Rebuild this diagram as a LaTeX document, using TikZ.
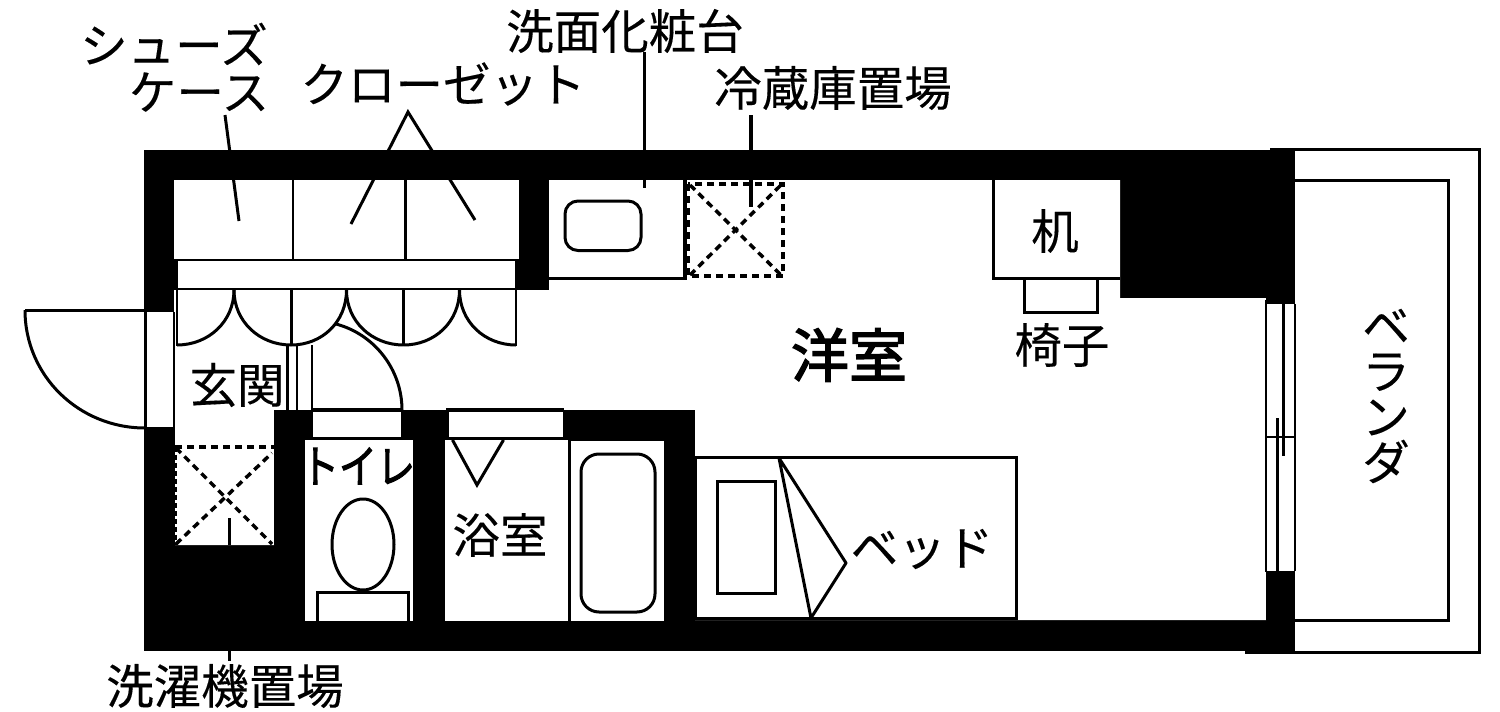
\documentclass[tikz,border=0pt]{standalone}
\usepackage{fontspec}
\usepackage{graphicx}
\setmainfont[FakeBold=0.25]{Noto Sans CJK JP}
\newfontfamily\medfont[FakeBold=2.5]{Noto Sans CJK JP}
\tikzset{
  ln/.style={draw=black,line width=3pt},
  thin ln/.style={draw=black,line width=2.4pt},
  dsh/.style={draw=black,line width=3.5pt,dash pattern=on 7pt off 5pt},
  wht/.style={fill=white,draw=none},
  blk/.style={fill=black,draw=none},
  lbl/.style={inner sep=0pt,outer sep=0pt,anchor=center,font=\fontsize{47.5}{47.5}\selectfont},
}
\begin{document}
\begin{tikzpicture}[x=1pt,y=-1pt,line join=miter]
\useasboundingbox (0,0) rectangle (1500,712);
\fill[white] (0,0) rectangle (1500,712);
% veranda
\draw[ln] (1270,149) -- (1479,149) -- (1479,652) -- (1245,652);
\draw[ln] (1295,180) -- (1448,180) -- (1448,620) -- (1295,620);
% walls
\fill[blk] (144,150) rectangle (1295,651);
\fill[blk] (1270,148) rectangle (1295,304);
\fill[blk] (1245,618) rectangle (1295,653);
% rooms
\fill[wht] (549,180) -- (1120,180) -- (1120,298) -- (1266,298) -- (1266,620) -- (695,620) -- (695,410) -- (274,410) -- (274,545) -- (175,545) -- (175,427) -- (174,427) -- (174,290) -- (549,290) -- cycle;
\fill[wht] (174,180) rectangle (519,259);
\fill[wht] (178,261) rectangle (515,288);
\fill[wht] (144,312) rectangle (174,427);
\fill[wht] (1266,304) rectangle (1295,571);
% black partition
\fill[blk] (274,410) rectangle (694,440);
\fill[blk] (664,410) rectangle (695,620);
\fill[blk] (568,438) rectangle (571,621);
\fill[blk] (274,410) rectangle (305,545);
\fill[blk] (413,410) rectangle (445,620);
\fill[wht] (313,412) rectangle (401,437);
\fill[wht] (449,412) rectangle (563,437);
\fill[wht] (305,440) rectangle (413,621);
\fill[wht] (445,440) rectangle (568,621);
\fill[wht] (571,441) rectangle (664,621);
% closet
\draw[thin ln] (293,180) -- (293,259);
\draw[ln] (405,180) -- (405,259);
% folding doors
\draw[thin ln] (177,290) -- (177,346);
\draw[ln] (291,290) -- (291,346);
\draw[thin ln] (403.5,290) -- (403.5,346);
\draw[thin ln] (516,290) -- (516,346);
\draw[ln] (234,290) .. controls (234,321.5) and (208.5,345) .. (177,345);
\draw[ln] (234,290) .. controls (234,321.5) and (259.5,345) .. (291,345);
\draw[ln] (346.5,290) .. controls (346.5,321.5) and (322.5,345) .. (291,345);
\draw[ln] (346.5,290) .. controls (346.5,321.5) and (372,345) .. (403.5,345);
\draw[ln] (459.5,290) .. controls (459.5,321.5) and (435,345) .. (403.5,345);
\draw[ln] (459.5,290) .. controls (459.5,321.5) and (484.5,345) .. (516,345);
% hall lines
\draw[thin ln] (287.5,345) -- (287.5,410);
\draw[thin ln] (297,345) -- (297,410);
\draw[thin ln] (312,345) -- (312,410);
\draw[ln] (312,409.5) -- (402,409.5);
\draw[ln] (446,409.5) -- (564,409.5);
\draw[ln] (402,410) .. controls (402,370) and (375,334.4) .. (336,324);
% entrance door
\draw[ln] (25,310) -- (145,310) -- (145,428);
\draw[ln] (25,310) .. controls (25,376) and (79,428) .. (145,428);
\draw[thin ln] (145,428) -- (174,428) -- (174,312);
\draw[thin ln] (145,311) -- (174,311);
% sink
\draw[ln] (549,278) -- (685,278);
\draw[line width=4pt] (685,180) -- (685,280);
\draw[ln,rounded corners=13pt] (565,201) rectangle (641,250.5);
\draw[line width=3pt] (644,52) -- (644,188);
% fridge
\draw[dsh] (688,184) rectangle (783,276);
\draw[dsh] (690,185) -- (781,275);
\draw[dsh] (690,275) -- (781,185);
\draw[line width=4pt] (751,115) -- (751,207);
% desk
\draw[ln] (993,180) -- (993,278) -- (1120,278);
\draw[ln] (1024,278) -- (1024,312) -- (1097,312) -- (1097,278);
% window
\draw[thin ln] (1266,300) -- (1266,572);
\draw[thin ln] (1295,304) -- (1295,571);
\draw[thin ln] (1266,437) -- (1295,437);
\draw[ln] (1283,304) -- (1283,456);
\draw[ln] (1277,418) -- (1277,571);
\fill[blk] (1266,298) rectangle (1295,304);
\fill[blk] (1266,571) rectangle (1295,620);
% bed
\draw[ln] (695,457) rectangle (1016,618);
\draw[ln] (717,481) rectangle (775,593);
\draw[ln,line join=bevel] (779,458) -- (811,618) -- (846,563) -- cycle;
% washer
\draw[dsh] (175,447) -- (274,447);
\draw[draw=black,line width=2pt,dash pattern=on 5pt off 3pt] (176,447) -- (176,545);
\draw[dsh] (176,448) -- (272,544);
\draw[dsh] (176,544) -- (272,453);
\draw[ln] (229,518) -- (229,545);
\draw[ln] (229,651) -- (229,661);
% toilet
\draw[ln] (363,544.5) ellipse (31 and 45.5);
\draw[ln] (317,621) -- (317,592) -- (408,592) -- (408,621);
% bath
\draw[ln] (452.5,440) -- (477,485) -- (503.5,440);
\draw[ln,rounded corners=18pt] (581,454) rectangle (655,612);
% leaders
\draw[line width=3pt] (225,115) -- (239,221);
\draw[line width=3pt] (351,224) -- (408,112) -- (475,220);
% labels
\node[lbl] (shoe1) at (174,44) {シューズ};
\node[lbl] (shoe2) at (199,92) {ケース};
\node[lbl] (closet) at (443,84) {クローゼット};
\node[lbl] (vanity) at (625,31) {洗面化粧台};
\node[lbl] (fridge) at (833,88) {冷蔵庫置場};
\node[lbl] (desk) at (1055,231) {机};
\node[lbl] (chair) at (1062,345) {椅子};
\node[lbl,font=\fontsize{58}{58}\selectfont\medfont] (room) at (849,355) {洋室};
\node[lbl] (entry) at (237,385) {玄関};
\node[lbl] (toilet) at (358,466) {\scalebox{0.8}[0.95]{\fontsize{47.5}{47.5}\selectfont\medfont トイレ}};
\node[lbl] (bath) at (500,535) {浴室};
\node[lbl] (bed) at (922,549) {ベッド};
\node[lbl,align=center,font=\fontsize{47.5}{45.5}\selectfont] (veranda) at (1386,396) {ベ\\ラ\\ン\\ダ};
\node[lbl] (washer) at (225,686) {洗濯機置場};
\end{tikzpicture}
\end{document}
